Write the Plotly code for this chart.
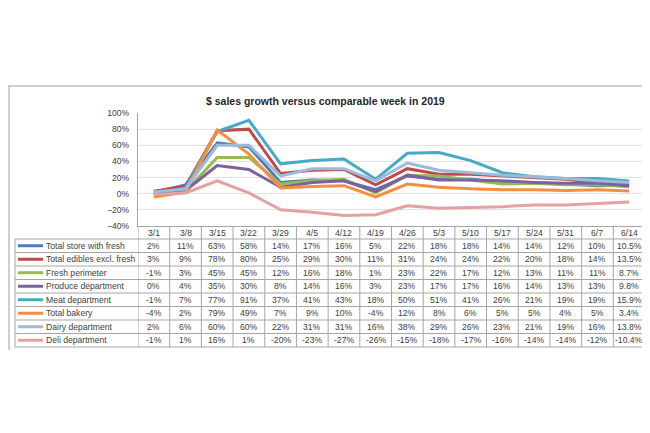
import plotly.graph_objects as go

weeks = ["3/1", "3/8", "3/15", "3/22", "3/29", "4/5", "4/12", "4/19", "4/26",
         "5/3", "5/10", "5/17", "5/24", "5/31", "6/7", "6/14"]

total_store = [2, 11, 63, 58, 14, 17, 16, 5, 22, 18, 18, 14, 14, 12, 10, 10.5]
total_edibles = [3, 9, 78, 80, 25, 29, 30, 11, 31, 24, 24, 22, 20, 18, 14, 13.5]
fresh_perimeter = [-1, 3, 45, 45, 12, 16, 18, 1, 23, 22, 17, 12, 13, 11, 11, 8.7]
produce = [0, 4, 35, 30, 8, 14, 16, 3, 23, 17, 17, 16, 14, 13, 13, 9.8]
meat = [-1, 7, 77, 91, 37, 41, 43, 18, 50, 51, 41, 26, 21, 19, 19, 15.9]
bakery = [-4, 2, 79, 49, 7, 9, 10, -4, 12, 8, 6, 5, 5, 4, 5, 3.4]
dairy = [2, 6, 60, 60, 22, 31, 31, 16, 38, 29, 26, 23, 21, 19, 16, 13.8]
deli = [-1, 1, 16, 1, -20, -23, -27, -26, -15, -18, -17, -16, -14, -14, -12, -10.4]

series_names = ["Total store with fresh", "Total edibles excl. fresh", "Fresh perimeter",
                "Produce department", "Meat department", "Total bakery",
                "Dairy department", "Deli department"]
series_values = [total_store, total_edibles, fresh_perimeter, produce, meat, bakery, dairy, deli]
series_colors = ["#4A7EBB", "#BE4B48", "#98B954", "#7D60A0", "#46AAC5", "#F58E3E",
                 "#9DB9DE", "#E3A1A0"]

title_text = "$ sales growth versus comparable week in 2019"

# page body has an 8px margin; work in reference-pixel coords and shift
OFF = 8
W, H = 650 - OFF, 433 - OFF
PLOT_L, PLOT_R, PLOT_T, PLOT_B = 138, 645, 113, 226  # reference pixels
ML, MT = PLOT_L - OFF, PLOT_T - OFF
MR = W - (PLOT_R - OFF)
MB = H - (PLOT_B - OFF)
PW = PLOT_R - PLOT_L
PH = PLOT_B - PLOT_T


def py(p):
    return (PLOT_B - p) / PH


def px(p):
    return (p - PLOT_L) / PW


def fmt(v):
    if isinstance(v, float) and not float(v).is_integer():
        return f"{v:.1f}%"
    return f"{int(v)}%"


fig = go.Figure()
for name, vals, col in zip(series_names, series_values, series_colors):
    fig.add_trace(go.Scatter(x=weeks, y=vals, mode="lines", name=name,
                             line=dict(color=col, width=3)))

font_fam = "Liberation Sans, Arial, sans-serif"
grid_col = "#A6A6A6"
txt_col = "#404040"
fs = 8.6
shapes = []
annotations = []

# outer frame (top and left)
shapes.append(dict(type="line", xref="paper", yref="paper", x0=px(8), x1=px(650),
                   y0=py(86), y1=py(86), line=dict(color="#BFBFBF", width=1.5)))
shapes.append(dict(type="line", xref="paper", yref="paper", x0=px(9), x1=px(9),
                   y0=py(86), y1=py(350), line=dict(color="#BFBFBF", width=1.5)))

row_top = 239
row_h = 13.5
table_left = 15
n_rows = len(series_names)
table_bottom = row_top + n_rows * row_h

for r in range(n_rows + 1):
    yy = py(row_top + r * row_h)
    shapes.append(dict(type="line", xref="paper", yref="paper", x0=px(table_left), x1=1,
                       y0=yy, y1=yy, line=dict(color=grid_col, width=1)))
shapes.append(dict(type="line", xref="paper", yref="paper", x0=px(table_left), x1=px(table_left),
                   y0=py(row_top), y1=py(table_bottom), line=dict(color=grid_col, width=1)))
for i in range(len(weeks) + 1):
    shapes.append(dict(type="line", xref="x", yref="paper", x0=i - 0.5, x1=i - 0.5,
                       y0=0, y1=py(table_bottom), line=dict(color=grid_col, width=1)))

for r, (name, vals, col) in enumerate(zip(series_names, series_values, series_colors)):
    yc = py(row_top + r * row_h + row_h / 2)
    shapes.append(dict(type="line", xref="paper", yref="paper", x0=px(18), x1=px(43),
                       y0=yc, y1=yc, line=dict(color=col, width=3)))
    annotations.append(dict(xref="paper", yref="paper", x=px(44), y=yc, text=name,
                            showarrow=False, xanchor="left", yanchor="middle",
                            font=dict(family=font_fam, size=fs, color=txt_col)))
    for i, v in enumerate(vals):
        annotations.append(dict(xref="x", yref="paper", x=i, y=yc, text=fmt(v),
                                showarrow=False, xanchor="center", yanchor="middle",
                                font=dict(family=font_fam, size=fs, color=txt_col)))

for i, wk in enumerate(weeks):
    annotations.append(dict(xref="x", yref="paper", x=i, y=py(232.5), text=wk,
                            showarrow=False, xanchor="center", yanchor="middle",
                            font=dict(family=font_fam, size=fs, color=txt_col)))

annotations.append(dict(xref="paper", yref="paper", x=px(325), y=py(101),
                        text="<b>" + title_text + "</b>", showarrow=False,
                        xanchor="center", yanchor="middle",
                        font=dict(family=font_fam, size=10.5, color="#262626")))

fig.update_layout(
    width=W, height=H,
    margin=dict(l=ML, r=MR, t=MT, b=MB),
    paper_bgcolor="white", plot_bgcolor="white",
    showlegend=False,
    shapes=shapes,
    annotations=annotations,
    xaxis=dict(type="category", range=[-0.5, len(weeks) - 0.5], showticklabels=False,
               showgrid=False, showline=True, linecolor=grid_col, linewidth=1,
               zeroline=False, fixedrange=True),
    yaxis=dict(range=[-40, 100], dtick=20, tickformat=".0f", ticksuffix="%",
               showgrid=True, gridcolor="#E3E3E3", gridwidth=1, zeroline=False,
               showline=True, linecolor=grid_col, linewidth=1,
               ticks="", ticklabelstandoff=6,
               tickfont=dict(family=font_fam, size=fs, color=txt_col), fixedrange=True),
)

fig.write_html("out.html")
